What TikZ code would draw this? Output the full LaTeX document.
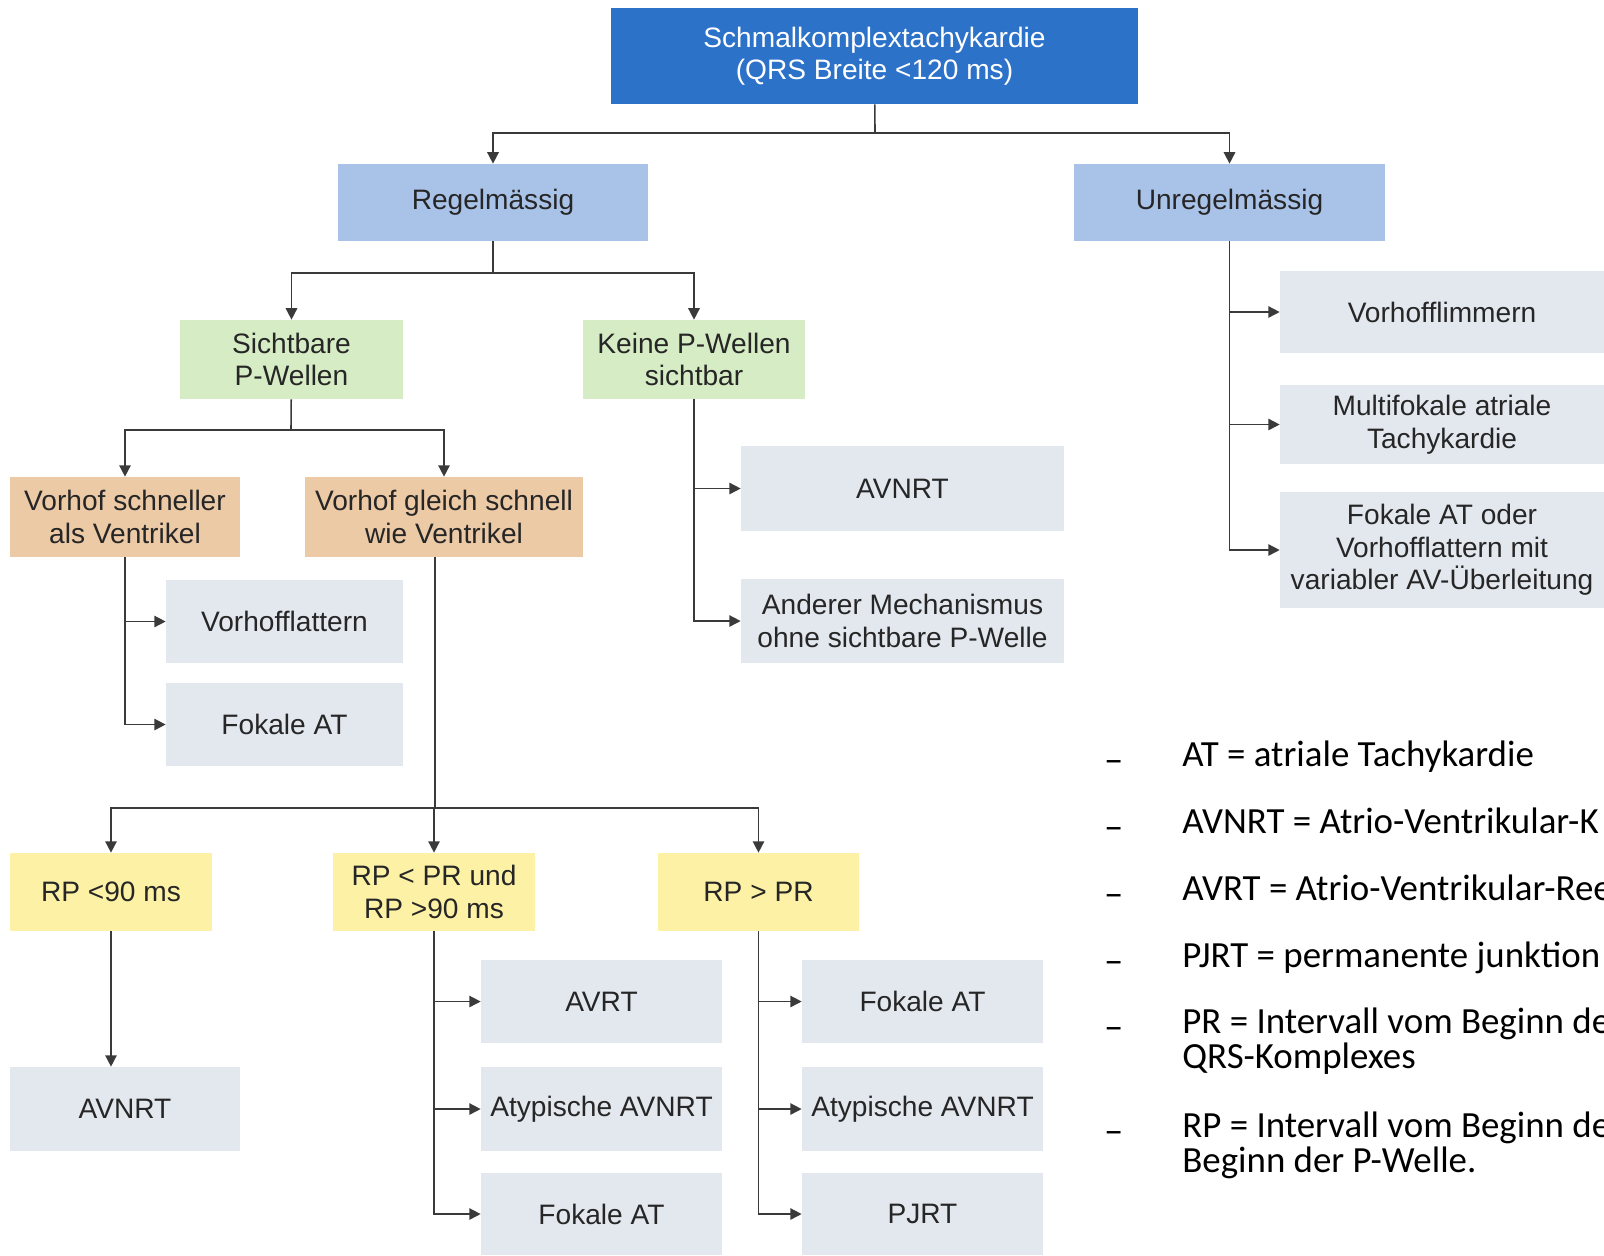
\documentclass[tikz,border=0pt]{standalone}
\usepackage{fontspec}
\setmainfont{Liberation Sans}
\newfontfamily\legendfont{Carlito}
\usepackage{xcolor}
\usetikzlibrary{arrows.meta}
\usetikzlibrary{calc}

\definecolor{topblue}{HTML}{2C72C8}
\definecolor{paleblue}{HTML}{A9C2E8}
\definecolor{palegreen}{HTML}{D6ECC4}
\definecolor{paleorange}{HTML}{ECCAA6}
\definecolor{paleyellow}{HTML}{FCF1A4}
\definecolor{palegrey}{HTML}{E3E8EF}
\definecolor{linegrey}{HTML}{3A3A3A}

\begin{document}
\begin{tikzpicture}[x=0.02cm,y=-0.02cm,
    box/.style={inner sep=0pt,align=center,text=black!85,font=\fontsize{16}{18.5}\selectfont},
    head/.style={box,fill=topblue,text=white},
    level/.style={box,fill=paleblue},
    wave/.style={box,fill=palegreen},
    atrium/.style={box,fill=paleorange},
    interval/.style={box,fill=paleyellow},
    result/.style={box,fill=palegrey},
    link/.style={draw=linegrey,line width=0.9pt},
    >={Triangle[length=6.5pt,width=6.5pt]},
    legend/.style={anchor=base west,inner sep=0pt,align=left,font=\legendfont\fontsize{21}{19.9}\selectfont},
    bullet/.style={anchor=base west,inner sep=0pt,yshift=-0.12cm,font=\legendfont\fontsize{22}{22}\selectfont}]
  \useasboundingbox (0,0) rectangle (1604,1255);

  \node[head, minimum width=10.54cm, minimum height=1.92cm] (top) at (874.5,56) {Schmalkomplextachykardie\\(QRS Breite <120 ms)};
  \node[level, minimum width=6.2cm, minimum height=1.54cm] (regel) at (493,202.5) {Regelmässig};
  \node[level, minimum width=6.22cm, minimum height=1.54cm] (unregel) at (1229.5,202.5) {Unregelmässig};

  \node[wave, minimum width=4.46cm, minimum height=1.58cm] (sicht) at (291.5,359.5) {Sichtbare\\P-Wellen};
  \node[wave, minimum width=4.44cm, minimum height=1.58cm] (keine) at (694,359.5) {Keine P-Wellen\\sichtbar};

  \node[atrium, minimum width=4.6cm, minimum height=1.6cm] (schneller) at (125,517) {Vorhof schneller\\als Ventrikel};
  \node[atrium, minimum width=5.56cm, minimum height=1.6cm] (gleich) at (444,517) {Vorhof gleich schnell\\wie Ventrikel};

  \node[result, minimum width=4.74cm, minimum height=1.66cm] (flattern) at (284.5,621.5) {Vorhofflattern};
  \node[result, minimum width=4.74cm, minimum height=1.66cm] (fokalA) at (284.5,724.5) {Fokale AT};
  \node[result, minimum width=6.46cm, minimum height=1.7cm] (avnrtK) at (902.5,488.5) {AVNRT};
  \node[result, minimum width=6.46cm, minimum height=1.68cm] (anderer) at (902.5,621) {Anderer Mechanismus\\ohne sichtbare P-Welle};

  \node[result, minimum width=6.48cm, minimum height=1.64cm] (flimmern) at (1442,312) {Vorhofflimmern};
  \node[result, minimum width=6.48cm, minimum height=1.58cm] (multi) at (1442,424.5) {Multifokale atriale\\Tachykardie};
  \node[result, minimum width=6.48cm, minimum height=2.32cm] (fokalD) at (1442,550) {Fokale AT oder\\Vorhofflattern mit\\variabler AV-Überleitung};

  \node[interval, minimum width=4.04cm, minimum height=1.56cm] (rp90) at (111,892) {RP <90 ms};
  \node[interval, minimum width=4.04cm, minimum height=1.56cm] (rpund) at (434,892) {RP < PR und\\RP >90 ms};
  \node[interval, minimum width=4.04cm, minimum height=1.56cm] (rpgr) at (758.5,892) {RP > PR};

  \node[result, minimum width=4.6cm, minimum height=1.68cm] (avnrtL) at (125,1109) {AVNRT};
  \node[result, minimum width=4.82cm, minimum height=1.66cm] (avrt) at (601.5,1001.5) {AVRT};
  \node[result, minimum width=4.82cm, minimum height=1.68cm] (atypA) at (601.5,1109) {Atypische AVNRT};
  \node[result, minimum width=4.82cm, minimum height=1.64cm] (fokalB) at (601.5,1214) {Fokale AT};
  \node[result, minimum width=4.82cm, minimum height=1.66cm] (fokalC) at (922.5,1001.5) {Fokale AT};
  \node[result, minimum width=4.82cm, minimum height=1.68cm] (atypB) at (922.5,1109) {Atypische AVNRT};
  \node[result, minimum width=4.82cm, minimum height=1.64cm] (pjrt) at (922.5,1214) {PJRT};

  \coordinate (bus0) at (875,133);
  \coordinate (bus1) at (493,273);
  \coordinate (bus2) at (291,430);
  \coordinate (bus3) at (435,808);

  \draw[link] (top) -- (bus0);
  \draw[link,->] (bus0) -| (regel);
  \draw[link,->] (bus0) -| (unregel);

  \draw[link] (regel) -- (bus1);
  \draw[link,->] (bus1) -| (sicht);
  \draw[link,->] (bus1) -| (keine);

  \draw[link] (sicht) -- (bus2);
  \draw[link,->] (bus2) -| (schneller);
  \draw[link,->] (bus2) -| (gleich);

  \draw[link,->] (schneller) |- (flattern);
  \draw[link,->] (schneller) |- (fokalA);

  \draw[link,->] (keine) |- (avnrtK);
  \draw[link,->] (keine) |- (anderer);

  \draw[link,->] (unregel) |- (flimmern);
  \draw[link,->] (unregel) |- (multi);
  \draw[link,->] (unregel) |- (fokalD);

  \draw[link] (gleich.south -| bus3) -- (bus3);
  \draw[link,->] (bus3) -| (rp90);
  \draw[link,->] (bus3) -| (rpund);
  \draw[link,->] (bus3) -| (rpgr);

  \draw[link,->] (rp90) -- (rp90 |- avnrtL.north);

  \draw[link,->] (rpund) |- (avrt);
  \draw[link,->] (rpund) |- (atypA);
  \draw[link,->] (rpund) |- (fokalB);

  \draw[link,->] (rpgr) |- (fokalC);
  \draw[link,->] (rpgr) |- (atypB);
  \draw[link,->] (rpgr) |- (pjrt);

  \node[bullet] (d1) at (1104,766) {–};
  \node[bullet] (d2) at (1104,833) {–};
  \node[bullet] (d3) at (1104,900) {–};
  \node[bullet] (d4) at (1104,967) {–};
  \node[bullet] (d5) at (1104,1033) {–};
  \node[bullet] (d6) at (1104,1137) {–};

  \node[legend] (l1) at (1182,766) {AT = atriale Tachykardie};
  \node[legend] (l2) at (1182,833) {AVNRT = Atrio-Ventrikular-K};
  \node[legend] (l3) at (1182,900) {AVRT = Atrio-Ventrikular-Ree};
  \node[legend] (l4) at (1182,967) {PJRT = permanente junktion};
  \node[legend] (l5) at (1182,1068) {PR = Intervall vom Beginn de\\QRS-Komplexes};
  \node[legend] (l6) at (1182,1172) {RP = Intervall vom Beginn de\\Beginn der P-Welle.};
\end{tikzpicture}
\end{document}
